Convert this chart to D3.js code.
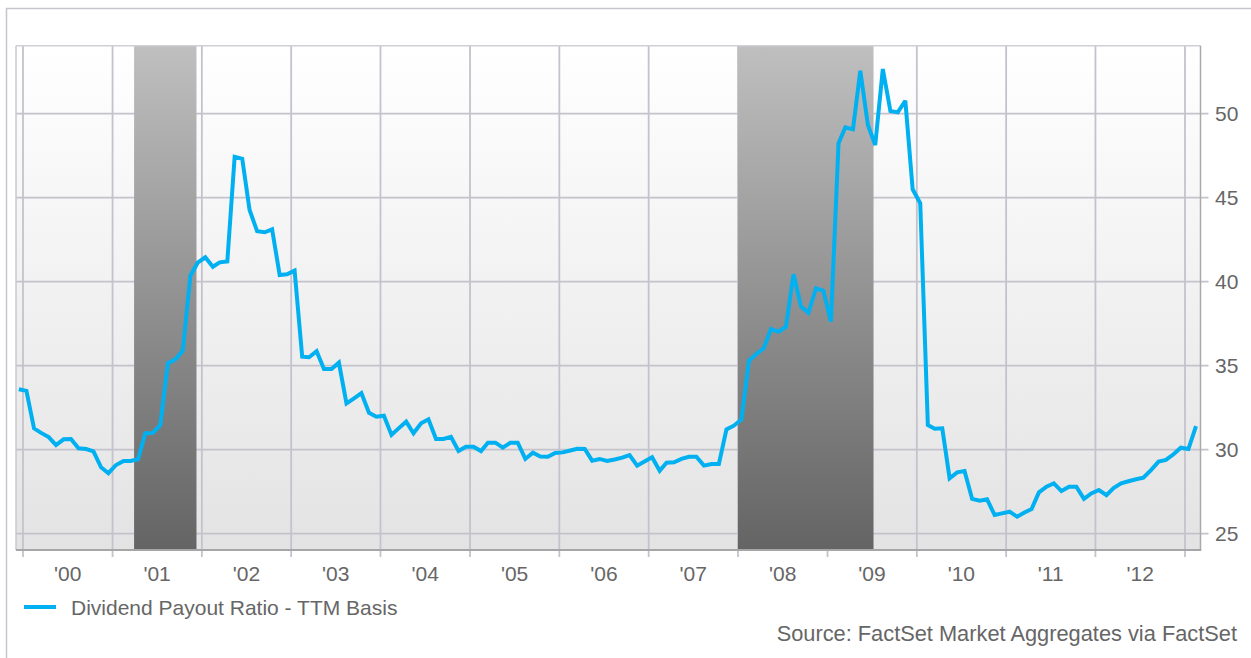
<!DOCTYPE html>
<html>
<head>
<meta charset="utf-8">
<script src="https://cdn.jsdelivr.net/npm/d3@7/dist/d3.min.js"></script>
<style>
  html, body { margin: 0; padding: 0; background: #ffffff; }
  svg { display: block; }
  text { font-family: "Liberation Sans", Arial, sans-serif; fill: #666666; }
</style>
</head>
<body>
<svg id="chart" width="1251" height="658"></svg>
<script>
// ---- Data (monthly, Dec 1999 .. Feb 2013) ----
const startYear = 1999, startMonth = 11; // December 1999 (0-based month)
const payoutRatio = [
  33.6, 33.5, 31.27, 31.0, 30.75, 30.28, 30.62, 30.64, 30.08, 30.04, 29.9, 28.95,
  28.6, 29.09, 29.33, 29.33, 29.43, 30.98, 31.0, 31.47, 35.14, 35.38, 35.9, 40.36,
  41.13, 41.45, 40.89, 41.15, 41.21, 47.44, 47.32, 44.27, 43.0, 42.94, 43.12, 40.4,
  40.44, 40.66, 35.54, 35.5, 35.86, 34.8, 34.8, 35.18, 32.76, 33.06, 33.37, 32.2,
  31.96, 32.02, 30.88, 31.27, 31.67, 30.98, 31.57, 31.81, 30.64, 30.64, 30.77, 29.92,
  30.18, 30.18, 29.92, 30.42, 30.42, 30.12, 30.42, 30.42, 29.45, 29.82, 29.6, 29.58,
  29.8, 29.84, 29.95, 30.05, 30.04, 29.35, 29.45, 29.33, 29.42, 29.53, 29.68, 29.05,
  29.3, 29.55, 28.75, 29.23, 29.25, 29.45, 29.58, 29.58, 29.05, 29.15, 29.15, 31.21,
  31.43, 31.8, 35.3, 35.68, 36.04, 37.18, 37.02, 37.32, 40.44, 38.51, 38.15, 39.61,
  39.46, 37.62, 48.24, 49.19, 49.07, 52.56, 49.33, 48.14, 52.66, 50.16, 50.08, 50.77,
  45.5, 44.67, 31.47, 31.25, 31.27, 28.3, 28.65, 28.73, 27.07, 26.96, 27.05, 26.11,
  26.21, 26.31, 26.01, 26.25, 26.47, 27.46, 27.8, 28.0, 27.54, 27.8, 27.8, 27.07,
  27.4, 27.6, 27.3, 27.72, 28.0, 28.12, 28.24, 28.33, 28.79, 29.29, 29.39, 29.73,
  30.12, 30.04, 31.41
];
const yearTicks = [2000, 2001, 2002, 2003, 2004, 2005, 2006, 2007, 2008, 2009, 2010, 2011, 2012, 2013];
const yearLabels = ["'00", "'01", "'02", "'03", "'04", "'05", "'06", "'07", "'08", "'09", "'10", "'11", "'12"];
const yTicks = [25, 30, 35, 40, 45, 50];
const recessions = [
  { start: "2001-03-30", end: "2001-12-10" },
  { start: "2008-01-01", end: "2009-07-08" }
];
const seriesName = "Dividend Payout Ratio - TTM Basis";
const sourceText = "Source: FactSet Market Aggregates via FactSet";

// ---- Layout ----
const plot = { left: 16, right: 1200.5, top: 45.7, bottom: 550 };

const svg = d3.select("#chart");
const parse = d3.timeParse("%Y-%m-%d");

const data = payoutRatio.map((v, i) => ({
  date: new Date(startYear, startMonth + i, 15),
  value: v
}));

const x = d3.scaleTime()
  .domain([new Date(2000, 0, 1), new Date(2013, 0, 1)])
  .range([23, 1185]);
const y = d3.scaleLinear()
  .domain([25, 50])
  .range([533.7, 113.7]);

// outer frame
svg.append("path")
  .attr("d", `M6.5,${658} L6.5,8.5 L1251,8.5`)
  .attr("fill", "none")
  .attr("stroke", "#c6c5ce")
  .attr("stroke-width", 1.5);

// defs
const defs = svg.append("defs");
const bg = defs.append("linearGradient").attr("id", "bgGrad")
  .attr("x1", 0).attr("y1", 0).attr("x2", 0).attr("y2", 1);
bg.append("stop").attr("offset", "0%").attr("stop-color", "#ffffff");
bg.append("stop").attr("offset", "100%").attr("stop-color", "#e3e3e3");
const rg = defs.append("linearGradient").attr("id", "recGrad")
  .attr("x1", 0).attr("y1", 0).attr("x2", 0).attr("y2", 1);
rg.append("stop").attr("offset", "0%").attr("stop-color", "#bfbfbf");
rg.append("stop").attr("offset", "100%").attr("stop-color", "#646464");
defs.append("clipPath").attr("id", "plotClip")
  .append("rect")
  .attr("x", plot.left).attr("y", plot.top)
  .attr("width", plot.right - plot.left).attr("height", plot.bottom - plot.top);

// plot background
svg.append("rect")
  .attr("x", plot.left).attr("y", plot.top)
  .attr("width", plot.right - plot.left).attr("height", plot.bottom - plot.top)
  .attr("fill", "url(#bgGrad)");

const gridColor = "#c4c2cc";

// horizontal gridlines
svg.append("g").selectAll("line").data(yTicks).join("line")
  .attr("x1", plot.left).attr("x2", plot.right + 8)
  .attr("y1", d => y(d)).attr("y2", d => y(d))
  .attr("stroke", gridColor).attr("stroke-width", 1.8);

// vertical gridlines + ticks
svg.append("g").selectAll("line").data(yearTicks).join("line")
  .attr("x1", d => x(new Date(d, 0, 1))).attr("x2", d => x(new Date(d, 0, 1)))
  .attr("y1", plot.top).attr("y2", plot.bottom + 7)
  .attr("stroke", gridColor).attr("stroke-width", 1.8);

// recession bands
svg.append("g").selectAll("rect").data(recessions).join("rect")
  .attr("x", d => x(parse(d.start)))
  .attr("width", d => x(parse(d.end)) - x(parse(d.start)))
  .attr("y", plot.top).attr("height", plot.bottom - plot.top)
  .attr("fill", "url(#recGrad)");

// plot borders
svg.append("line")
  .attr("x1", plot.left).attr("x2", plot.right)
  .attr("y1", plot.top).attr("y2", plot.top)
  .attr("stroke", "#d0d0d4").attr("stroke-width", 1.5);
svg.append("line")
  .attr("x1", plot.left).attr("x2", plot.left)
  .attr("y1", plot.top).attr("y2", plot.bottom)
  .attr("stroke", "#c8c7cf").attr("stroke-width", 1.5);
svg.append("line")
  .attr("x1", plot.right).attr("x2", plot.right)
  .attr("y1", plot.top).attr("y2", plot.bottom)
  .attr("stroke", "#aaaaaa").attr("stroke-width", 1.5);
svg.append("line")
  .attr("x1", plot.left).attr("x2", plot.right + 0.75)
  .attr("y1", plot.bottom).attr("y2", plot.bottom)
  .attr("stroke", "#a6a6a6").attr("stroke-width", 2);

// data line
const line = d3.line().x(d => x(d.date)).y(d => y(d.value));
svg.append("path")
  .datum(data)
  .attr("clip-path", "url(#plotClip)")
  .attr("d", line)
  .attr("fill", "none")
  .attr("stroke", "#00b0f0")
  .attr("stroke-width", 4)
  .attr("stroke-linejoin", "miter")
  .attr("stroke-miterlimit", 3);

// y labels (right)
svg.append("g").selectAll("text").data(yTicks).join("text")
  .attr("x", 1215).attr("y", d => y(d) + 7.5)
  .attr("font-size", 21)
  .text(d => d);

// x labels (mid-year)
svg.append("g").selectAll("text").data(yearLabels).join("text")
  .attr("x", (d, i) => x(new Date(2000 + i, 6, 2)))
  .attr("y", 581)
  .attr("text-anchor", "middle")
  .attr("font-size", 21)
  .text(d => d);

// legend
svg.append("line")
  .attr("x1", 24).attr("x2", 56).attr("y1", 607).attr("y2", 607)
  .attr("stroke", "#00b0f0").attr("stroke-width", 4);
svg.append("text")
  .attr("x", 71).attr("y", 615)
  .attr("font-size", 21)
  .text(seriesName);

// source
svg.append("text")
  .attr("x", 1237).attr("y", 641)
  .attr("text-anchor", "end")
  .attr("font-size", 21.8)
  .text(sourceText);
</script>
</body>
</html>
